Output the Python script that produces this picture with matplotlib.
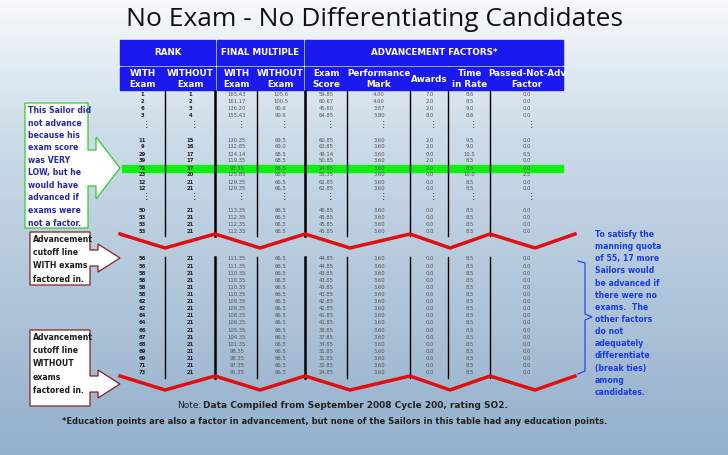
import matplotlib
matplotlib.use("Agg")
import matplotlib.pyplot as plt
import numpy as np
from matplotlib.patches import Rectangle, Polygon

title = "No Exam - No Differentiating Candidates"
group_headers = ["RANK", "FINAL MULTIPLE", "ADVANCEMENT FACTORS*"]
col_headers = ["WITH\nExam", "WITHOUT\nExam", "WITH\nExam", "WITHOUT\nExam", "Exam\nScore",
               "Performance\nMark", "Awards", "Time\nin Rate", "Passed-Not-Adv\nFactor"]

sec1 = [["1", "1", "165.43", "105.6", "59.85", "4.00", "7.0", "8.6", "0.0"],
        ["2", "2", "161.17", "100.5", "60.67", "4.00", "2.0", "8.5", "0.0"],
        ["6", "3", "136.20", "90.6", "45.60", "3.87", "2.0", "9.0", "0.0"],
        ["3", "4", "155.43", "90.6", "64.85", "3.80", "8.0", "8.6", "0.0"]]
sec2 = [["11", "15", "130.35", "69.5", "60.85", "3.60", "2.0", "9.5", "0.0"],
        ["9", "16", "132.85", "69.0", "63.85", "3.60", "2.0", "9.0", "0.0"],
        ["29", "17", "124.14", "68.5", "49.14", "3.60", "0.0", "10.5", "6.5"],
        ["39", "17", "119.35", "68.5", "50.85", "3.60", "2.0", "8.5", "0.0"],
        ["72", "17", "93.35", "68.5", "24.85", "3.60", "2.0", "8.5", "0.0"],
        ["23", "20", "125.85", "68.0", "55.35", "3.60", "0.0", "10.0", "2.5"],
        ["12", "21", "129.35", "66.5", "62.85", "3.60", "0.0", "8.5", "0.0"],
        ["12", "21", "129.35", "66.5", "62.85", "3.60", "0.0", "8.5", "0.0"]]
sec2b = [["50", "21", "113.35", "66.5", "46.85", "3.60", "0.0", "8.5", "0.0"],
         ["53", "21", "112.35", "66.5", "45.85", "3.60", "0.0", "8.5", "0.0"],
         ["53", "21", "112.35", "66.5", "45.85", "3.60", "0.0", "8.5", "0.0"],
         ["53", "21", "112.35", "66.5", "45.85", "3.60", "0.0", "8.5", "0.0"]]
sec3_rank = ["56", "56", "58", "58", "58", "58", "62", "62", "64", "64", "66", "67", "68", "69", "69", "71", "73"]
sec3_fm = ["111.35", "111.35", "110.35", "110.35", "110.35", "110.35", "109.35", "109.35", "108.35",
           "108.35", "105.35", "104.35", "101.35", "98.35", "98.35", "97.35", "91.35"]
sec3_exam = ["44.85", "44.85", "43.85", "43.85", "43.85", "43.85", "42.85", "42.85", "41.85",
             "41.85", "38.85", "37.85", "34.85", "31.85", "31.85", "30.85", "24.85"]
sec3 = [[r, "21", f, "66.5", e, "3.60", "0.0", "8.5", "0.0"] for r, f, e in zip(sec3_rank, sec3_fm, sec3_exam)]

fig = plt.figure(figsize=(7.28, 4.55), dpi=100)
ax = fig.add_axes([0, 0, 1, 1])
ax.set_xlim(0, 728); ax.set_ylim(455, 0); ax.axis("off")

g = np.linspace(0, 1, 256)[:, None]
top = np.array([0.97, 0.98, 0.99]); mid = np.array([0.80, 0.86, 0.91]); bot = np.array([0.58, 0.69, 0.80])
img = np.where(g < 0.3, top + (mid - top) * (g / 0.3), mid + (bot - mid) * ((g - 0.3) / 0.7))
img = np.repeat(img[:, None, :], 2, axis=1).reshape(256, 2, 3)
ax.imshow(img, extent=[0, 728, 455, 0], aspect="auto", zorder=0)

ax.text(375, 20, title, ha="center", va="center", fontsize=19, family="Open Sans", color="#111111")

blue = "#1a1aee"
groups = [(120, 215), (217, 303), (305, 563)]
for (a, b), h in zip(groups, group_headers):
    ax.add_patch(Rectangle((a, 40), b - a, 25, color=blue, zorder=2))
    ax.text((a + b) / 2, 52.5, h, ha="center", va="center", color="white", fontsize=6.3, weight="bold", zorder=3)
cols = [(120, 165), (166, 215), (217, 257), (258, 303), (305, 347), (348, 410), (411, 448), (449, 490), (491, 563)]
for (a, b), h in zip(cols, col_headers):
    ax.add_patch(Rectangle((a, 67), b - a, 23, color=blue, zorder=2))
    ax.text((a + b) / 2, 79, h, ha="center", va="center", color="white", fontsize=6.3, weight="bold",
            linespacing=1.3, zorder=3)

ax.add_patch(Rectangle((122, 165), 441, 7, color="#11ee11", zorder=1))

def draw_rows(rows, y0, dy):
    for i, r in enumerate(rows):
        y = y0 + i * dy
        for j, ((a, b), v) in enumerate(zip(cols, r)):
            ax.text((a + b) / 2, y, v, ha="center", va="center", fontsize=3.8,
                    color="#222222" if j < 2 else "#555555", weight="bold" if j < 2 else "normal", zorder=3)

draw_rows(sec1, 94, 7.3)
draw_rows(sec2, 140, 7.0)
draw_rows(sec2b, 210, 7.3)
draw_rows(sec3, 259, 7.1)
for yy in (125, 196):
    for (a, b) in cols:
        ax.text((a + b) / 2 + 4, yy, "⋮", ha="center", va="center", fontsize=5.5, color="#111111", zorder=3)

for x, lw in [(165, 1), (215, 1.8), (257, 1), (305, 1.8), (347, 1), (410, 1), (448, 1), (490, 1)]:
    ax.plot([x, x], [91, 236], color="black", lw=lw, zorder=2)
    ax.plot([x, x], [257, 378], color="black", lw=lw, zorder=2)

zx = [120, 165, 215, 260, 305, 350, 410, 450, 490, 535, 575]
for yb in (240, 382):
    zy = [yb + 8 if i % 2 == 1 else yb - 6 for i in range(len(zx))]
    ax.plot(zx, zy, color="#e01010", lw=2.5, zorder=4)

def callout(x0, y0, w, h, tipx, tipy, hh, sh, ec, txt, tc, ls):
    x1 = x0 + w
    pts = [(x0, y0), (x1, y0), (x1, tipy - sh), (x1 + 8, tipy - sh), (x1 + 8, tipy - hh), (tipx, tipy),
           (x1 + 8, tipy + hh), (x1 + 8, tipy + sh), (x1, tipy + sh), (x1, y0 + h), (x0, y0 + h)]
    ax.add_patch(Polygon(pts, closed=True, fc="white", ec=ec, lw=0.9, zorder=5))
    ax.text(x0 + 3, y0 + 3, txt, ha="left", va="top", fontsize=5.6, color=tc, weight="bold",
            linespacing=ls, zorder=6)

callout(25, 103, 63, 125, 120, 168, 31, 18, "#33cc33",
        "This Sailor did\nnot advance\nbecause his\nexam score\nwas VERY\nLOW, but he\nwould have\nadvanced if\nexams were\nnot a factor.", "#2a2aa8", 1.5)
callout(30, 232, 60, 53, 120, 258, 14, 8, "#882222",
        "Advancement\ncutoff line\nWITH exams\nfactored in.", "#1a1a1a", 1.6)
callout(30, 330, 60, 76, 120, 384, 14, 8, "#882222",
        "Advancement\ncutoff line\nWITHOUT\nexams\nfactored in.", "#1a1a1a", 1.6)

ax.text(595, 230, "To satisfy the\nmanning quota\nof 55, 17 more\nSailors would\nbe advanced if\nthere were no\nexams.  The\nother factors\ndo not\nadequately\ndifferentiate\n(break ties)\namong\ncandidates.",
        ha="left", va="top", fontsize=5.6, color="#1a3aee", weight="bold", linespacing=1.45, zorder=6)
ax.plot([578, 585, 585, 592, 585, 585, 578], [261, 263, 314, 317, 320, 371, 374], color="#1a3aee", lw=0.8, zorder=6)

ax.text(177, 405, "Note:", ha="left", va="center", fontsize=6.5, color="#222222")
ax.text(203, 405, "Data Compiled from September 2008 Cycle 200, rating SO2.", ha="left", va="center",
        fontsize=6.5, color="#222222", weight="bold")
ax.text(62, 422, "*Education points are also a factor in advancement, but none of the Sailors in this table had any education points.",
        ha="left", va="center", fontsize=6.0, color="#222222", weight="bold")

fig.savefig("out.png", dpi=100)
